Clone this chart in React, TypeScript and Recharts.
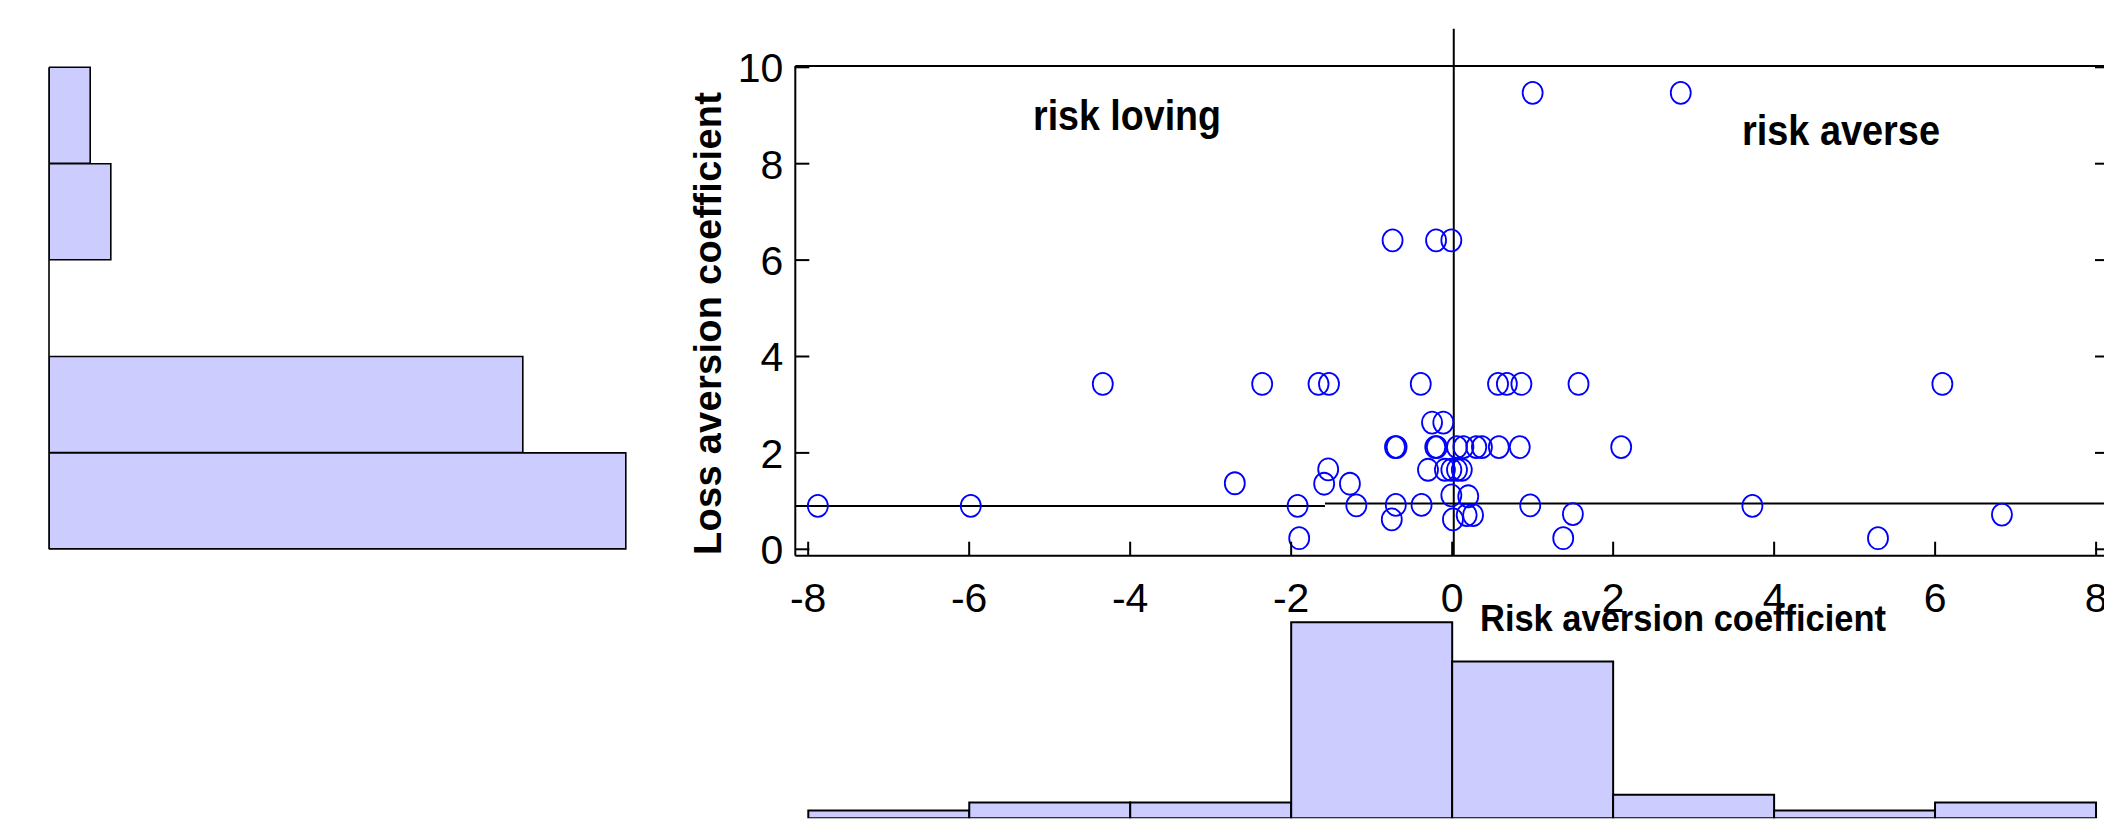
import React from 'react';
import { ScatterChart, Scatter, XAxis, YAxis, ReferenceLine, BarChart, Bar } from 'recharts';

// ---- data ----
const riskAversion = [
  -7.88, -5.98, -4.34, -2.7, -2.36,
  -1.92, -1.9, -1.66, -1.53, -1.59, -1.54, -1.27, -1.19, -0.74, -0.69, -0.71, -0.7, -0.75,
  -0.39, -0.38, -0.25, -0.11, -0.21, -0.19, -0.3, -0.2, -0.01, -0.09, -0.01, -0.01,
  0.01, 0.06, 0.12, 0.2, 0.18, 0.26, 0.06, 0.14, 0.3, 0.37, 0.58, 0.84, 0.57, 0.68, 0.86, 1.57,
  0.97, 1.5, 1.38, 1.0,
  2.1, 2.84, 3.73, 5.29, 6.09, 6.83,
];
const lossAversion = [
  0.9, 0.9, 3.43, 1.37, 3.43,
  0.9, 0.23, 3.43, 3.43, 1.36, 1.66, 1.36, 0.91, 6.41, 2.12, 2.12, 0.92, 0.62,
  3.43, 0.92, 2.63, 2.63, 2.12, 2.12, 1.65, 6.41, 6.41, 1.65, 1.65, 1.12,
  0.62, 1.65, 1.65, 1.1, 0.71, 0.71, 2.12, 2.12, 2.12, 2.12, 2.12, 2.12, 3.43, 3.43, 3.43, 3.43,
  0.91, 0.73, 0.23, 9.47,
  2.12, 9.47, 0.9, 0.23, 3.43, 0.72,
];
const xTicks = [-8, -6, -4, -2, 0, 2, 4, 6, 8];
const yTicks = [0, 2, 4, 6, 8, 10];

// histogram of risk aversion (bins of width 2 from -8 to 8)
const riskBins = ['-8..-6', '-6..-4', '-4..-2', '-2..0', '0..2', '2..4', '4..6', '6..8'];
const riskCounts = [1, 2, 2, 25, 20, 3, 1, 2];

// histogram of loss aversion (bins of width 2, listed top to bottom: 10..8 down to 2..0)
const lossBins = ['8..10', '6..8', '4..6', '2..4', '0..2'];
const lossCounts = [2, 3, 0, 23, 28];

// reference lines
const verticalLineX = 0.02;
const stepX = -1.58;
const stepLeftY = 0.9;
const stepRightY = 0.95;

const X_DOMAIN: [number, number] = [-8.16, 8.16];
const Y_DOMAIN: [number, number] = [-0.133, 10.027];

const FONT = '"Liberation Sans", Arial, Helvetica, sans-serif';
const TICK = 14;
const AXIS_W = 2;

const points = riskAversion.map((x, i) => ({ x, y: lossAversion[i] }));
const riskData = riskBins.map((bin, i) => ({ bin, count: riskCounts[i] }));
const lossData = lossBins.map((bin, i) => ({ bin, count: lossCounts[i] }));

const BottomTick = (props: any) => {
  const { x, y, payload } = props;
  return (
    <g>
      <line x1={x} y1={y} x2={x} y2={y - TICK} stroke="#000" strokeWidth={AXIS_W} />
      <text x={x} y={y + 56} textAnchor="middle" fontSize={41} fontFamily={FONT} fill="#000">
        {String(payload.value)}
      </text>
    </g>
  );
};
const TopTick = (props: any) => {
  const { x, y } = props;
  return <line x1={x} y1={y} x2={x} y2={y + TICK} stroke="#000" strokeWidth={AXIS_W} />;
};
const LeftTick = (props: any) => {
  const { x, y, payload } = props;
  return (
    <g>
      <line x1={x} y1={y} x2={x + TICK} y2={y} stroke="#000" strokeWidth={AXIS_W} />
      <text x={x - 12} y={y + 15} textAnchor="end" fontSize={41} fontFamily={FONT} fill="#000">
        {String(payload.value)}
      </text>
    </g>
  );
};
const RightTick = (props: any) => {
  const { x, y } = props;
  return <line x1={x} y1={y} x2={x - TICK} y2={y} stroke="#000" strokeWidth={AXIS_W} />;
};

const Marker = (props: any) => {
  const { cx, cy } = props;
  if (cx == null || cy == null) return <g />;
  return <ellipse cx={cx} cy={cy} rx={10} ry={11} fill="none" stroke="#0000ff" strokeWidth={1.8} />;
};

// scatter plot area: left 795.3, top 66, right 2109, bottom 555.7
const SC_W = 2200;
const SC_H = 822;
const Y_AXIS_W = 60;
const R_AXIS_W = 10;
const X_AXIS_H = 60;
const T_AXIS_H = 10;
const PLOT_L = 795.3;
const PLOT_T = 66;
const PLOT_R = 2109;
const PLOT_B = 555.7;

export default function App() {
  return (
    <div
      style={{
        position: 'absolute',
        left: 0,
        top: 0,
        width: 2104,
        height: 822,
        overflow: 'hidden',
        background: '#fff',
      }}
    >
      {/* left histogram (loss aversion) */}
      <div style={{ position: 'absolute', left: 0, top: 0 }}>
        <BarChart
          layout="vertical"
          width={667}
          height={560}
          data={lossData}
          margin={{ top: 67.3, left: 49, right: 0, bottom: 560 - 549.3 }}
          barCategoryGap={0}
          barGap={0}
        >
          <XAxis type="number" domain={[0, 30]} hide allowDataOverflow />
          <YAxis type="category" dataKey="bin" hide />
          <Bar dataKey="count" fill="#ccccff" stroke="#000" strokeWidth={1.6} isAnimationActive={false} />
          <ReferenceLine x={0} stroke="#000" strokeWidth={1.6} />
        </BarChart>
      </div>

      {/* bottom histogram (risk aversion) */}
      <div style={{ position: 'absolute', left: 0, top: 0 }}>
        <BarChart
          width={2104}
          height={822}
          data={riskData}
          margin={{ top: 618.3, left: 808.3, right: 2104 - 2096, bottom: 822 - 818.3 }}
          barCategoryGap={0}
          barGap={0}
        >
          <XAxis type="category" dataKey="bin" hide />
          <YAxis type="number" domain={[0, 25.5]} hide allowDataOverflow />
          <Bar dataKey="count" fill="#ccccff" stroke="#000" strokeWidth={2} isAnimationActive={false} />
        </BarChart>
      </div>

      {/* scatter */}
      <div style={{ position: 'absolute', left: 0, top: 0 }}>
        <ScatterChart
          width={SC_W}
          height={SC_H}
          margin={{
            top: PLOT_T - T_AXIS_H,
            left: PLOT_L - Y_AXIS_W,
            right: SC_W - PLOT_R - R_AXIS_W,
            bottom: SC_H - PLOT_B - X_AXIS_H,
          }}
        >
          <XAxis
            xAxisId={0}
            type="number"
            dataKey="x"
            domain={X_DOMAIN}
            allowDataOverflow
            ticks={xTicks}
            interval={0}
            height={X_AXIS_H}
            tickSize={0}
            tickMargin={0}
            tickLine={false}
            axisLine={{ stroke: '#000', strokeWidth: AXIS_W }}
            tick={(p: any) => <BottomTick {...p} />}
          />
          <XAxis
            xAxisId="top"
            orientation="top"
            type="number"
            domain={X_DOMAIN}
            allowDataOverflow
            ticks={xTicks}
            interval={0}
            height={T_AXIS_H}
            tickSize={0}
            tickMargin={0}
            tickLine={false}
            axisLine={{ stroke: '#000', strokeWidth: AXIS_W }}
            tick={(p: any) => <TopTick {...p} />}
          />
          <YAxis
            yAxisId={0}
            type="number"
            dataKey="y"
            domain={Y_DOMAIN}
            allowDataOverflow
            ticks={yTicks}
            interval={0}
            width={Y_AXIS_W}
            tickSize={0}
            tickMargin={0}
            tickLine={false}
            axisLine={{ stroke: '#000', strokeWidth: AXIS_W }}
            tick={(p: any) => <LeftTick {...p} />}
          />
          <YAxis
            yAxisId="right"
            orientation="right"
            type="number"
            domain={Y_DOMAIN}
            allowDataOverflow
            ticks={yTicks}
            interval={0}
            width={R_AXIS_W}
            tickSize={0}
            tickMargin={0}
            tickLine={false}
            axisLine={{ stroke: '#000', strokeWidth: AXIS_W }}
            tick={(p: any) => <RightTick {...p} />}
          />
          <Scatter data={points} shape={(p: any) => <Marker {...p} />} isAnimationActive={false} />
          <ReferenceLine
            segment={[
              { x: X_DOMAIN[0], y: stepLeftY },
              { x: stepX, y: stepLeftY },
            ]}
            stroke="#000"
            strokeWidth={2}
            ifOverflow="visible"
          />
          <ReferenceLine
            segment={[
              { x: stepX, y: stepRightY },
              { x: X_DOMAIN[1], y: stepRightY },
            ]}
            stroke="#000"
            strokeWidth={2}
            ifOverflow="visible"
          />
          <ReferenceLine
            segment={[
              { x: verticalLineX, y: Y_DOMAIN[0] },
              { x: verticalLineX, y: 10.8 },
            ]}
            stroke="#000"
            strokeWidth={2}
            ifOverflow="visible"
          />
        </ScatterChart>
      </div>

      {/* text annotations */}
      <svg
        width={2104}
        height={822}
        style={{ position: 'absolute', left: 0, top: 0, pointerEvents: 'none' }}
      >
        <text
          x={1033}
          y={130}
          fontSize={42}
          fontWeight="bold"
          fontFamily={FONT}
          textLength={188}
          lengthAdjust="spacingAndGlyphs"
          fill="#000"
        >
          risk loving
        </text>
        <text
          x={1742}
          y={145.4}
          fontSize={42}
          fontWeight="bold"
          fontFamily={FONT}
          textLength={198}
          lengthAdjust="spacingAndGlyphs"
          fill="#000"
        >
          risk averse
        </text>
        <text
          x={1480}
          y={630.7}
          fontSize={36}
          fontWeight="bold"
          fontFamily={FONT}
          textLength={406}
          lengthAdjust="spacingAndGlyphs"
          fill="#000"
        >
          Risk aversion coefficient
        </text>
        <text
          transform="translate(721,555) rotate(-90)"
          x={0}
          y={0}
          fontSize={38}
          fontWeight="bold"
          fontFamily={FONT}
          textLength={463}
          lengthAdjust="spacing"
          fill="#000"
        >
          Loss aversion coefficient
        </text>
      </svg>
    </div>
  );
}
